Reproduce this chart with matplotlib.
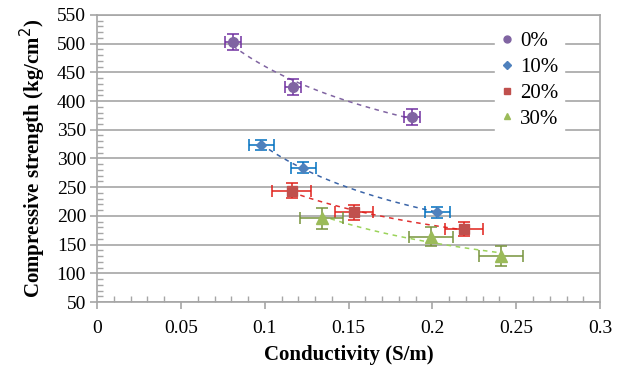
# Compressive strength vs conductivity scatter with error bars and trendlines

import numpy as np
import matplotlib.pyplot as plt
from matplotlib.ticker import MultipleLocator
from matplotlib.lines import Line2D

plt.rcParams['font.family'] = ['Liberation Serif', 'DejaVu Serif']

labels = ['0%', '10%', '20%', '30%']

# conductivity (S/m)
cond_0 = [0.081, 0.117, 0.188]
cond_10 = [0.098, 0.123, 0.203]
cond_20 = [0.116, 0.153, 0.219]
cond_30 = [0.134, 0.199, 0.241]

# compressive strength (kg/cm2)
str_0 = [503, 425, 373]
str_10 = [323, 284, 206]
str_20 = [244, 206, 177]
str_30 = [196, 164, 130]

# error bars
xerr_0 = [0.0047, 0.0047, 0.0047]
yerr_0 = [14, 14, 14]
xerr_10 = [0.0076, 0.0076, 0.0077]
yerr_10 = [9, 9, 9]
xerr_20 = [0.0115, 0.0113, 0.0114]
yerr_20 = [13, 13, 12]
xerr_30 = [0.0128, 0.013, 0.013]
yerr_30 = [18, 17, 17]

series = [
    (cond_0, str_0, xerr_0, yerr_0, 'o', 7, '#8064A2', '#7030A0', '#8064A2'),
    (cond_10, str_10, xerr_10, yerr_10, 'D', 5, '#4F81BD', '#0070C0', '#3A64A8'),
    (cond_20, str_20, xerr_20, yerr_20, 's', 7, '#C0504D', '#E0201A', '#E03030'),
    (cond_30, str_30, xerr_30, yerr_30, '^', 8, '#9BBB59', '#77933C', '#9BD35A'),
]

fig, ax = plt.subplots(figsize=(6.27, 3.72), dpi=100)
fig.subplots_adjust(left=0.155, right=0.957, top=0.96, bottom=0.188)

handles = []
for (x, y, xe, ye, mk, ms, mcol, ecol, tcol), lab in zip(series, labels):
    x = np.array(x)
    y = np.array(y)
    # power trendline like Excel
    b, a = np.polyfit(np.log(x), np.log(y), 1)
    xs = np.linspace(x.min(), x.max(), 100)
    ax.plot(xs, np.exp(a) * xs ** b, linestyle=(0, (3, 3)), color=tcol, lw=1.1, zorder=2)
    ax.errorbar(x, y, xerr=xe, yerr=ye, fmt=mk, ms=ms, color=mcol, ecolor=ecol,
                elinewidth=1.1, capsize=4, capthick=1.1, zorder=3)
    handles.append(Line2D([], [], marker=mk, color=mcol, ls='none',
                          ms=5 if mk != 'D' else 4, label=lab))

ax.set_xlim(0, 0.3)
ax.set_ylim(50, 550)
ax.xaxis.set_major_locator(MultipleLocator(0.05))
ax.xaxis.set_minor_locator(MultipleLocator(0.01))
ax.yaxis.set_major_locator(MultipleLocator(50))
ax.yaxis.set_minor_locator(MultipleLocator(10))
ax.set_xticks([0, 0.05, 0.1, 0.15, 0.2, 0.25, 0.3])
ax.set_xticklabels(['0', '0.05', '0.1', '0.15', '0.2', '0.25', '0.3'])

ax.grid(axis='y', which='major', color='#A6A6A6', lw=1.2, zorder=0)
ax.set_axisbelow(True)
for s in ax.spines.values():
    s.set_color('#A6A6A6')
    s.set_linewidth(1.2)

ax.tick_params(which='major', direction='out', length=5, color='#A6A6A6',
               labelsize=14, width=1.2, pad=3)
ax.tick_params(which='minor', direction='in', length=4, color='#A6A6A6', width=1)
ax.tick_params(axis='x', which='major', pad=8)

ax.set_xlabel('Conductivity (S/m)', fontsize=15, fontweight='bold', labelpad=6)
ax.set_ylabel('Compressive strength (kg/cm$^2$)', fontsize=15, fontweight='bold', labelpad=6)

leg = ax.legend(handles=handles, loc='upper left', bbox_to_anchor=(0.77, 1.0),
                frameon=True, fontsize=15, handlelength=0.6, handletextpad=0.3,
                labelspacing=0.3, borderpad=0.3, fancybox=False)
leg.get_frame().set_facecolor('white')
leg.get_frame().set_edgecolor('white')
leg.get_frame().set_alpha(1)

plt.savefig('out.png', dpi=100)
